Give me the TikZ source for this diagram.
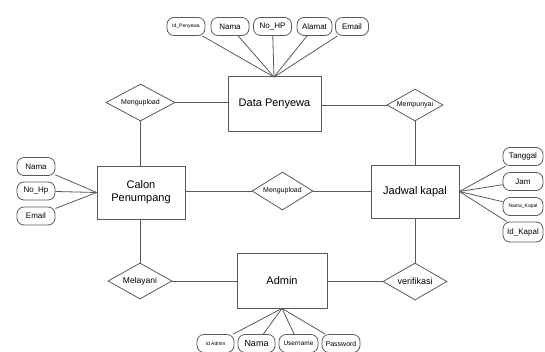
\documentclass[tikz,border=0pt]{standalone}
\usepackage{fontspec}
\setmainfont{Liberation Sans}
\usetikzlibrary{shapes.geometric}
\begin{document}
\begin{tikzpicture}[x=1pt,y=-1pt,
  ln/.style={draw=black!65, line width=0.8pt},
  ent/.style={ln, rectangle, minimum width=90pt, minimum height=54pt, inner sep=0pt, font=\fontsize{11}{13}\selectfont, align=center},
  rel/.style={ln, diamond, aspect=1.8, inner sep=0pt, font=\fontsize{7}{8}\selectfont},
  att/.style={ln, rectangle, rounded corners=7pt, minimum width=38pt, minimum height=18pt, inner sep=0pt, font=\fontsize{8}{9}\selectfont},
  tiny/.style={font=\fontsize{5}{6}\selectfont}
]
\useasboundingbox (0,0) rectangle (545,351);
% entities
\node[ent, minimum width=93pt, minimum height=55pt] (dp) at (274.5,104) {Data Penyewa};
\node[ent, minimum width=88pt, minimum height=53pt] (cp) at (141,192.5) {Calon\\Penumpang};
\node[ent, minimum width=88pt, minimum height=53pt] (jk) at (415,191.5) {Jadwal kapal};
\node[ent, minimum width=90pt, minimum height=55pt] (ad) at (282,280.5) {Admin};
% relationships
\node[rel, minimum width=69pt, minimum height=37pt] (r1) at (140.5,102.5) {Mengupload};
\node[rel, minimum width=56pt, minimum height=32pt] (r2) at (415,105) {Mempunyai};
\node[rel, minimum width=61pt, minimum height=38pt] (r3) at (282.5,191) {Mengupload};
\node[rel, minimum width=64pt, minimum height=36pt, font=\fontsize{8.5}{9}\selectfont] (r4) at (140,281) {Melayani};
\node[rel, minimum width=64pt, minimum height=37pt, font=\fontsize{9}{10}\selectfont] (r5) at (415,281.5) {verifikasi};
% connections
\draw[ln] (r1.east) -- (dp.west |- r1.east);
\draw[ln] (r1.south) -- (cp.north -| r1.south);
\draw[ln] (dp.east |- r2.west) -- (r2.west);
\draw[ln] (r2.south) -- (jk.north);
\draw[ln] (cp.east |- r3.west) -- (r3.west);
\draw[ln] (r3.east) -- (jk.west |- r3.east);
\draw[ln] (cp.south -| r4.north) -- (r4.north);
\draw[ln] (r4.east) -- (ad.west |- r4.east);
\draw[ln] (jk.south) -- (r5.north);
\draw[ln] (ad.east |- r5.west) -- (r5.west);
% Data Penyewa attributes
\node[att, tiny] (a1) at (186,26.5) {Id\_Penyewa};
\node[att] (a2) at (230,26.5) {Nama};
\node[att] (a3) at (272.5,26.5) {No\_HP};
\node[att, minimum width=35pt] (a4) at (314.5,26.5) {Alamat};
\node[att, minimum width=33pt] (a5) at (352,26.5) {Email};
\coordinate (dpt) at (274,77);
\foreach \a in {a1,a2,a3,a4,a5} \draw[ln] (\a) -- (dpt);
% Calon Penumpang attributes
\node[att] (c1) at (36,166.5) {Nama};
\node[att] (c2) at (36,191) {No\_Hp};
\node[att] (c3) at (36,216) {Email};
\foreach \a in {c1,c2,c3} \draw[ln] (\a) -- (cp.west);
% Jadwal kapal attributes
\node[att, minimum width=40pt] (j1) at (523,156.5) {Tanggal};
\node[att, minimum width=40pt] (j2) at (523,181.5) {Jam};
\node[att, minimum width=40pt, tiny] (j3) at (523,206.5) {Nama\_Kapal};
\node[att, minimum width=40pt, minimum height=20pt] (j4) at (523,232) {Id\_Kapal};
\foreach \a in {j1,j2,j3,j4} \draw[ln] (\a) -- (jk.east);
% Admin attributes
\node[att, minimum width=37pt, tiny] (d1) at (215.5,343.5) {Id Admin};
\node[att, minimum width=37pt, font=\fontsize{9}{10}\selectfont] (d2) at (256.5,343.5) {Nama};
\node[att, minimum width=39pt, font=\fontsize{6.5}{7}\selectfont] (d3) at (298.5,343.5) {Username};
\node[att, minimum width=38pt, font=\fontsize{7}{8}\selectfont] (d4) at (341,343.5) {Password};
\foreach \a in {d1,d2,d3,d4} \draw[ln] (\a) -- (ad.south);
\end{tikzpicture}
\end{document}
